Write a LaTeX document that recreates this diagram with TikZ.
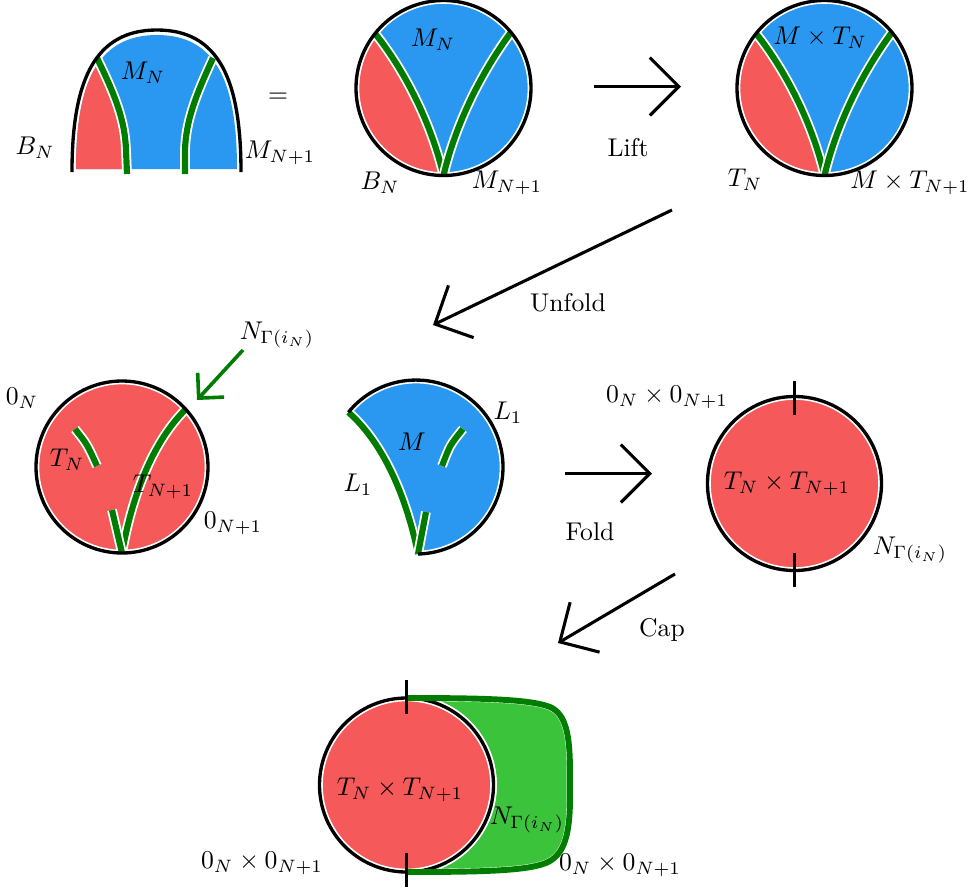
\documentclass[tikz,border=0pt]{standalone}
\usetikzlibrary{arrows.meta}
\definecolor{myred}{RGB}{245,89,89}
\definecolor{myblue}{RGB}{42,152,240}
\definecolor{mygreen}{RGB}{0,125,0}
\definecolor{mylight}{RGB}{60,195,60}
\begin{document}
\begin{tikzpicture}[x=0.39pt,y=-0.39pt,
 reg/.style={draw=white,line width=2.6pt},
 gline/.style={draw=mygreen,line width=2.4pt,preaction={draw=white,line width=3.8pt}},
 bline/.style={draw=black,line width=1.3pt},
 bigarrow/.style={draw=black,line width=1.2pt,-{Straight Barb[length=11.3pt,width=22.6pt]}},
 garrow/.style={draw=mygreen,line width=1.4pt,-{Straight Barb[length=7pt,width=14pt]}},
 lab/.style={inner sep=0pt}
]
\useasboundingbox (0,0) rectangle (977,893);

% ---------- arch (top left) ----------
\fill[myblue] (76,169) .. controls (76,82) and (98,35) .. (157,35) .. controls (216,35) and (237,82) .. (237,169) -- cycle;
\begin{scope}
\clip (76,169) .. controls (76,82) and (98,35) .. (157,35) .. controls (216,35) and (237,82) .. (237,169) -- cycle;
\fill[myred] (80,40) -- (97,58) .. controls (115,95) and (125,120) .. (126,150) -- (127,175) -- (60,175) -- (60,40) -- cycle;
\end{scope}
\draw[gline] (97,58) .. controls (115,95) and (125,120) .. (126,150) -- (127,174);
\draw[gline] (213,58) .. controls (196,95) and (186,120) .. (185,150) -- (185,174);
\draw[bline] (72,172) .. controls (72,80) and (95,30) .. (157,30) .. controls (219,30) and (241,80) .. (241,172);
\node[lab] (aB) at (35,148) {$B_N$};
\node[lab] (aM) at (143,73) {$M_N$};
\node[lab] (aMM) at (280,153) {$M_{N+1}$};
\node[lab] (eq) at (278,98) {$=$};

% ---------- circle 1 ----------
\coordinate (c1) at (443.5,88);
\fill[myblue,reg] (c1) circle[radius=87.5];
\fill[myred,reg] (375,33.5) .. controls (395,58) and (428,110) .. (443.5,175.5) arc[start angle=90,end angle=218.5,radius=87.5] -- cycle;
\draw[gline] (375,33.5) .. controls (395,58) and (428,110) .. (443.5,175.5);
\draw[gline] (511,32.3) .. controls (492,58) and (459,110) .. (443.5,175.5);
\draw[bline] (c1) circle[radius=87.5];
\node[lab] (c1M) at (433,40) {$M_N$};
\node[lab] (c1B) at (380,183) {$B_N$};
\node[lab] (c1MM) at (507,183) {$M_{N+1}$};

% ---------- circle 2 ----------
\coordinate (c2) at (824.5,88);
\fill[myblue,reg] (c2) circle[radius=87.5];
\fill[myred,reg] (756,33.5) .. controls (776,58) and (809,110) .. (824.5,175.5) arc[start angle=90,end angle=218.5,radius=87.5] -- cycle;
\draw[gline] (756,33.5) .. controls (776,58) and (809,110) .. (824.5,175.5);
\draw[gline] (892,32.3) .. controls (873,58) and (840,110) .. (824.5,175.5);
\draw[bline] (c2) circle[radius=87.5];
\node[lab] (c2M) at (820,38) {$M\times T_N$};
\node[lab] (c2T) at (745,180) {$T_N$};
\node[lab] (c2MT) at (910,183) {$M\times T_{N+1}$};

% ---------- arrows ----------
\coordinate (liftA) at (594,86.5);
\coordinate (liftB) at (681,86.5);
\draw[bigarrow] (liftA) -- (liftB);
\node[lab] (lift) at (628,148) {Lift};
\coordinate (unfA) at (672,210);
\coordinate (unfB) at (433,325);
\draw[bigarrow] (unfA) -- (unfB);
\node[lab] (unfold) at (568,303) {Unfold};
\coordinate (foldA) at (565,473.5);
\coordinate (foldB) at (652,473.5);
\draw[bigarrow] (foldA) -- (foldB);
\node[lab] (fold) at (590,532) {Fold};
\coordinate (capA) at (675,574);
\coordinate (capB) at (558,643);
\draw[bigarrow] (capA) -- (capB);
\node[lab] (cap) at (662,630) {Cap};

% ---------- circle 3 ----------
\coordinate (c3) at (122,467);
\fill[myred,reg] (c3) circle[radius=86];
\draw[gline] (185,410) .. controls (160,435) and (135,480) .. (122,553);
\draw[gline] (112,510) -- (122,553);
\draw[gline] (75,429) .. controls (87,444) .. (97,466);
\draw[bline] (c3) circle[radius=86];
\coordinate (gA) at (243,350);
\coordinate (gB) at (197,400);
\draw[garrow] (gA) -- (gB);
\node[lab] (c3N) at (277,335) {$N_{\Gamma(i_N)}$};
\node[lab] (c3z) at (22,398) {$0_N$};
\node[lab] (c3T) at (67,460) {$T_N$};
\node[lab] (c3TT) at (163,487) {$T_{N+1}$};
\node[lab] (c3zz) at (233,523) {$0_{N+1}$};

% ---------- blob ----------
\fill[myblue,reg] (348.4,412.3) arc[start angle=-141,end angle=88.7,radius=87] .. controls (405,490) and (380,440) .. (348.4,412.3) -- cycle;
\draw[gline] (348.4,412.3) .. controls (380,440) and (405,490) .. (418,554);
\draw[gline] (426,512) -- (418,554);
\draw[gline] (463,429) .. controls (450,445) .. (442,466);
\draw[bline] (348.4,412.3) arc[start angle=-141,end angle=88.7,radius=87];
\node[lab] (bL) at (508,413) {$L_1$};
\node[lab] (bM) at (412,442) {$M$};
\node[lab] (bL2) at (358,485) {$L_1$};

% ---------- circle 5 ----------
\coordinate (c5) at (794.5,483.5);
\fill[myred,reg] (c5) circle[radius=87];
\draw[bline] (c5) circle[radius=87];
\draw[bline] (794.5,381) -- (794.5,415);
\draw[bline] (794.5,553) -- (794.5,587);
\node[lab] (c5z) at (667,397) {$0_N\times 0_{N+1}$};
\node[lab] (c5T) at (787,484) {$T_N\times T_{N+1}$};
\node[lab] (c5N) at (910,550) {$N_{\Gamma(i_N)}$};

% ---------- circle 6 ----------
\coordinate (c6) at (406.5,785);
\fill[mylight,reg] (406.5,698) .. controls (480,698) and (530,699) .. (550,707) .. controls (566,714) and (570,735) .. (570,772) -- (570,798) .. controls (570,840) and (562,856) .. (546,863) .. controls (526,871) and (480,872) .. (406.5,872) arc[start angle=90,end angle=-90,radius=87] -- cycle;
\fill[myred,reg] (c6) circle[radius=87];
\draw[bline] (c6) circle[radius=87];
\draw[mygreen,line width=2.3pt] (406.5,698) .. controls (480,698) and (530,699) .. (550,707) .. controls (566,714) and (570,735) .. (570,772) -- (570,798) .. controls (570,840) and (562,856) .. (546,863) .. controls (526,871) and (480,872) .. (406.5,872);
\draw[bline] (406.5,680) -- (406.5,714);
\draw[bline] (406.5,853) -- (406.5,887);
\node[lab] (c6T) at (400,790) {$T_N\times T_{N+1}$};
\node[lab] (c6N) at (527,820) {$N_{\Gamma(i_N)}$};
\node[lab] (c6z) at (262,863) {$0_N\times 0_{N+1}$};
\node[lab] (c6zz) at (620,865) {$0_N\times 0_{N+1}$};
\end{tikzpicture}
\end{document}
